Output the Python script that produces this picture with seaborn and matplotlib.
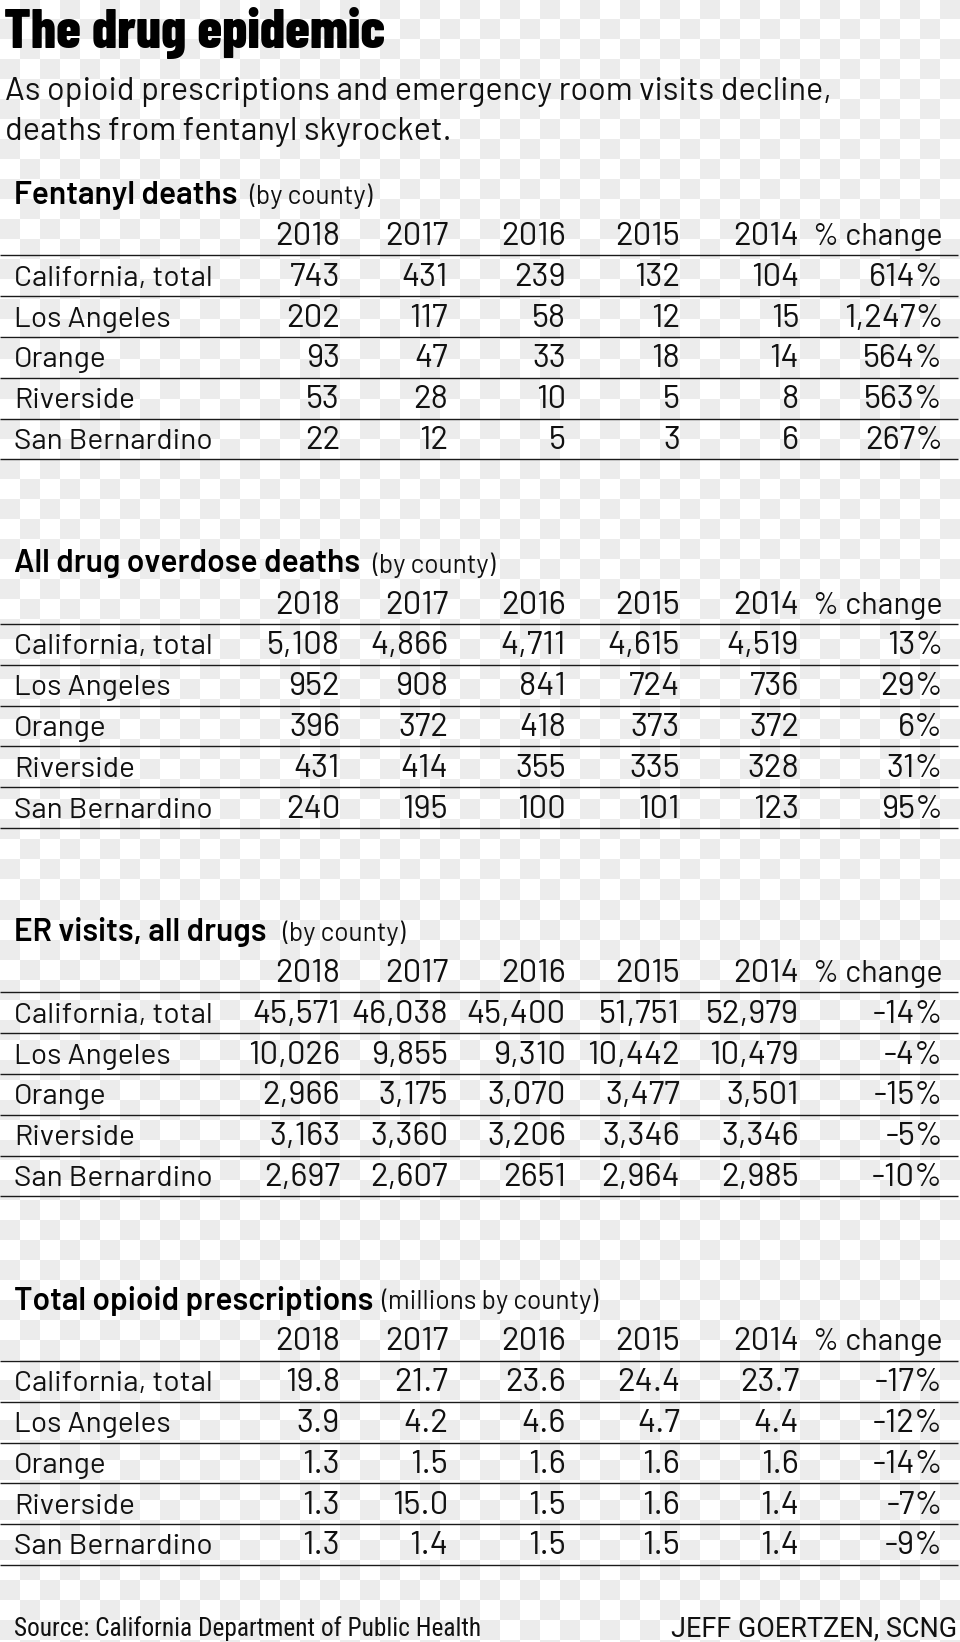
import matplotlib
matplotlib.use("Agg")
import matplotlib.pyplot as plt
import numpy as np
import seaborn as sns

# ---------------- data ----------------
title = "The drug epidemic"
subtitle = ["As opioid prescriptions and emergency room visits decline,",
            "deaths from fentanyl skyrocket."]
columns = ["2018", "2017", "2016", "2015", "2014", "% change"]
counties = ["California, total", "Los Angeles", "Orange", "Riverside", "San Bernardino"]

fentanyl_deaths = [
    ["743", "431", "239", "132", "104", "614%"],
    ["202", "117", "58", "12", "15", "1,247%"],
    ["93", "47", "33", "18", "14", "564%"],
    ["53", "28", "10", "5", "8", "563%"],
    ["22", "12", "5", "3", "6", "267%"],
]
overdose_deaths = [
    ["5,108", "4,866", "4,711", "4,615", "4,519", "13%"],
    ["952", "908", "841", "724", "736", "29%"],
    ["396", "372", "418", "373", "372", "6%"],
    ["431", "414", "355", "335", "328", "31%"],
    ["240", "195", "100", "101", "123", "95%"],
]
er_visits = [
    ["45,571", "46,038", "45,400", "51,751", "52,979", "-14%"],
    ["10,026", "9,855", "9,310", "10,442", "10,479", "-4%"],
    ["2,966", "3,175", "3,070", "3,477", "3,501", "-15%"],
    ["3,163", "3,360", "3,206", "3,346", "3,346", "-5%"],
    ["2,697", "2,607", "2651", "2,964", "2,985", "-10%"],
]
opioid_prescriptions = [
    ["19.8", "21.7", "23.6", "24.4", "23.7", "-17%"],
    ["3.9", "4.2", "4.6", "4.7", "4.4", "-12%"],
    ["1.3", "1.5", "1.6", "1.6", "1.6", "-14%"],
    ["1.3", "15.0", "1.5", "1.6", "1.4", "-7%"],
    ["1.3", "1.4", "1.5", "1.5", "1.4", "-9%"],
]
section_titles = ["Fentanyl deaths", "All drug overdose deaths", "ER visits, all drugs",
                  "Total opioid prescriptions"]
section_notes = ["(by county)", "(by county)", "(by county)", "(millions by county)"]
section_tables = [fentanyl_deaths, overdose_deaths, er_visits, opioid_prescriptions]
source = "Source: California Department of Public Health"
credit = "JEFF GOERTZEN, SCNG"

# ---------------- style ----------------
sns.set_theme(style="white")
plt.rcParams["font.family"] = ["Barlow", "DejaVu Sans"]

W, H = 960, 1642
PX = 0.72  # points per pixel at dpi 100
INK = "#111111"
LABEL_PX = 29.8   # county names
HEAD_PX = 30.6    # "% change" header
NUM_PX = 33.0     # figures in the tables

fig = plt.figure(figsize=(W / 100, H / 100), dpi=100)
ax = fig.add_axes([0, 0, 1, 1])

# transparency-style checkerboard background
cell = 20
nr, nc = int(np.ceil(H / cell)), int(np.ceil(W / cell))
rr, cc = np.indices((nr, nc))
board = ((rr + cc) % 2).astype(float)
ax.imshow(board, cmap=matplotlib.colors.ListedColormap(["#ffffff", "#ececec"]),
          extent=(0, nc * cell, nr * cell, 0), interpolation="nearest",
          aspect="auto", zorder=0)
ax.set_xlim(0, W)
ax.set_ylim(H, 0)
ax.axis("off")


def is_number(s):
    return any(ch.isdigit() for ch in s) and not any(ch.isalpha() for ch in s)


# title + subtitle
ax.text(4, 48, title, family=["Barlow Condensed", "DejaVu Sans"], weight=800,
        fontsize=55.5 * PX, color="black", va="baseline", ha="left")
for i, line in enumerate(subtitle):
    ax.text(5, 100 + 40 * i, line, fontsize=32.5 * PX, color=INK,
            va="baseline", ha="left")

col_right = [340, 448, 566, 680, 799, 943]
label_x = 14
section_step = 368.5
row_step = 40.8
note_x = [249, 372, 282, 377]

fig.canvas.draw()
renderer = fig.canvas.get_renderer()

for s, (stitle, note, table) in enumerate(zip(section_titles, section_notes, section_tables)):
    base = 245 + s * section_step
    head_y = base - 41
    t = ax.text(label_x, head_y, stitle, fontsize=31.7 * PX, weight=600, color="black",
                va="baseline", ha="left")
    bb = t.get_window_extent(renderer)
    nx = max(note_x[s], bb.x1 + 8)
    ax.text(nx, head_y, note, fontsize=26.3 * PX, weight=400, color=INK,
            va="baseline", ha="left")
    # header row
    for c, lab in enumerate(columns):
        size = NUM_PX if is_number(lab) else HEAD_PX
        ax.text(col_right[c], base, lab, fontsize=size * PX, color=INK,
                va="baseline", ha="right")
    # rules
    for k in range(6):
        y = base + 10.5 + row_step * k
        ax.hlines(y, 0, W - 2, color="#1a1a1a", lw=1.0, zorder=2)
    # body rows
    for r, (county, vals) in enumerate(zip(counties, table)):
        y = base + row_step * (r + 1)
        ax.text(label_x, y, county, fontsize=LABEL_PX * PX, color=INK,
                va="baseline", ha="left")
        for c, v in enumerate(vals):
            ax.text(col_right[c], y, v, fontsize=NUM_PX * PX, color=INK,
                    va="baseline", ha="right")

# footer
ax.text(14, 1636, source, family=["Roboto Condensed", "DejaVu Sans"], fontsize=25.4 * PX,
        color=INK, va="baseline", ha="left")
ax.text(957, 1636, credit, family=["Roboto", "DejaVu Sans"], fontsize=27 * PX,
        color=INK, va="baseline", ha="right")

fig.savefig("out.png", dpi=100)
